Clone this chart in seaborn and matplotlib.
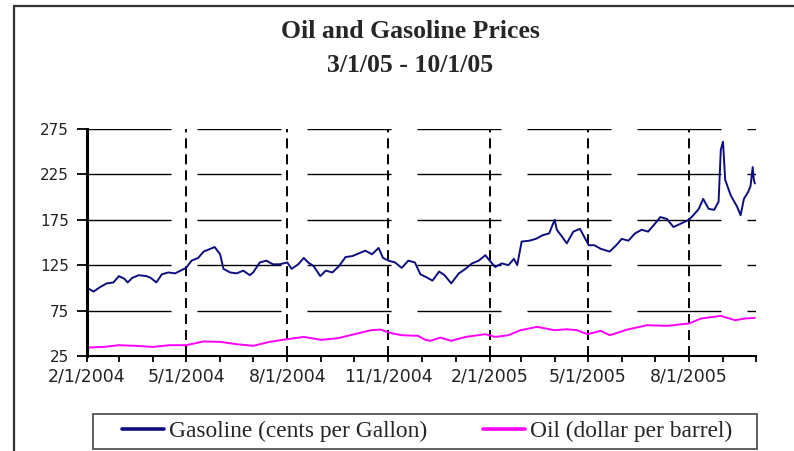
import matplotlib
matplotlib.use("Agg")
import matplotlib.pyplot as plt
import matplotlib.dates as mdates
from matplotlib.lines import Line2D
from matplotlib.patches import Rectangle
from matplotlib.ticker import FuncFormatter
import pandas as pd
import seaborn as sns

# ── data ────────────────────────────────────────────────────────────────────
GAS_DATES = [
    "2004-02-01", "2004-02-07", "2004-02-13", "2004-02-19", "2004-02-25", "2004-03-01",
    "2004-03-06", "2004-03-09", "2004-03-13", "2004-03-19", "2004-03-26", "2004-03-30",
    "2004-04-04", "2004-04-09", "2004-04-15", "2004-04-21", "2004-04-26", "2004-05-01",
    "2004-05-06", "2004-05-12", "2004-05-17", "2004-05-23", "2004-05-27", "2004-06-01",
    "2004-06-04", "2004-06-10", "2004-06-16", "2004-06-22", "2004-06-28", "2004-07-01",
    "2004-07-07", "2004-07-13", "2004-07-19", "2004-07-25", "2004-08-01", "2004-08-05",
    "2004-08-11", "2004-08-16", "2004-08-20", "2004-08-25", "2004-08-31", "2004-09-05",
    "2004-09-11", "2004-09-17", "2004-09-23", "2004-09-29", "2004-10-05", "2004-10-11",
    "2004-10-17", "2004-10-23", "2004-10-27", "2004-11-01", "2004-11-07", "2004-11-13",
    "2004-11-19", "2004-11-25", "2004-11-30", "2004-12-05", "2004-12-11", "2004-12-17",
    "2004-12-22", "2004-12-28", "2005-01-04", "2005-01-10", "2005-01-16", "2005-01-22",
    "2005-01-28", "2005-02-01", "2005-02-06", "2005-02-12", "2005-02-18", "2005-02-23",
    "2005-02-26", "2005-03-02", "2005-03-09", "2005-03-15", "2005-03-21", "2005-03-27",
    "2005-04-01", "2005-04-03", "2005-04-08", "2005-04-12", "2005-04-18", "2005-04-24",
    "2005-04-28", "2005-05-02", "2005-05-07", "2005-05-13", "2005-05-21", "2005-05-27",
    "2005-06-01", "2005-06-07", "2005-06-13", "2005-06-19", "2005-06-25", "2005-06-30",
    "2005-07-06", "2005-07-12", "2005-07-18", "2005-07-25", "2005-08-01", "2005-08-05",
    "2005-08-10", "2005-08-14", "2005-08-19", "2005-08-24", "2005-08-28", "2005-08-30",
    "2005-09-01", "2005-09-03", "2005-09-08", "2005-09-14", "2005-09-17", "2005-09-20",
    "2005-09-24", "2005-09-26", "2005-09-28", "2005-09-29", "2005-09-30",
]
GAS_VALUES = [
    100, 96, 101, 105, 106, 113,
    110, 106, 111, 114, 113, 111,
    106, 115, 117, 116, 119, 122,
    130, 133, 140, 143, 145, 137,
    121, 117, 116, 119, 114, 117,
    128, 130, 126, 126, 128, 121,
    126, 133, 128, 124, 113, 119,
    117, 124, 134, 135, 138, 141,
    137, 144, 133, 130, 128, 122,
    130, 128, 115, 112, 108, 118,
    114, 105, 116, 121, 127, 130,
    136, 130, 123, 127, 125, 132,
    125, 151, 152, 154, 158, 160,
    175, 164, 156, 149, 162, 165,
    156, 147, 147, 143, 140, 147,
    154, 152, 160, 164, 162, 169,
    178, 176, 167, 171, 175, 180,
    187, 198, 187, 186, 195, 252,
    261, 219, 202, 189, 180, 198,
    206, 212, 233, 219, 215,
]

OIL_DATES = [
    "2004-02-01", "2004-02-16", "2004-03-01", "2004-03-16", "2004-04-01", "2004-04-16",
    "2004-05-01", "2004-05-17", "2004-06-01", "2004-06-16", "2004-07-01", "2004-07-16",
    "2004-08-01", "2004-08-16", "2004-09-01", "2004-09-16", "2004-10-01", "2004-10-16",
    "2004-10-25", "2004-11-01", "2004-11-13", "2004-11-28", "2004-12-04", "2004-12-09",
    "2004-12-18", "2004-12-28", "2005-01-10", "2005-01-28", "2005-02-06", "2005-02-18",
    "2005-03-01", "2005-03-16", "2005-04-01", "2005-04-12", "2005-04-21", "2005-05-01",
    "2005-05-13", "2005-05-21", "2005-06-06", "2005-06-24", "2005-07-12", "2005-08-01",
    "2005-08-12", "2005-08-30", "2005-09-12", "2005-09-21", "2005-09-30",
]
OIL_VALUES = [
    34.3, 35.0, 36.9, 36.2, 35.0, 36.9,
    36.9, 41.0, 40.6, 38.0, 36.2, 40.6,
    43.5, 46.0, 42.8, 44.6, 49.0, 53.4,
    54.1, 50.8, 47.9, 47.2, 43.0, 41.7,
    45.3, 41.7, 46.0, 49.0, 46.0, 47.9,
    53.4, 57.1, 53.4, 54.5, 53.4, 49.0,
    52.7, 47.9, 54.1, 58.9, 58.2, 60.8,
    66.3, 69.2, 64.4, 66.3, 67.0,
]

Y_TICKS = [25, 75, 125, 175, 225, 275]
X_START, X_END = "2004-02-01", "2005-10-01"
GAS_LABEL = "Gasoline (cents per Gallon)"
OIL_LABEL = "Oil (dollar per barrel)"
TITLE = "Oil and Gasoline Prices"
SUBTITLE = "3/1/05 - 10/1/05"

# ── style ───────────────────────────────────────────────────────────────────
sns.set_style("white")
plt.rcParams["font.family"] = ["DejaVu Sans"]
plt.rcParams["lines.scale_dashes"] = False

gas = pd.DataFrame({"date": pd.to_datetime(GAS_DATES), "value": GAS_VALUES})
oil = pd.DataFrame({"date": pd.to_datetime(OIL_DATES), "value": OIL_VALUES})

fig = plt.figure(figsize=(7.94, 4.51), dpi=100)
ax = fig.add_axes([87 / 794, 1 - 356 / 451, (756 - 87) / 794, (356 - 129) / 451])

sns.lineplot(data=gas, x="date", y="value", ax=ax, color="#0d0d80", linewidth=1.4,
             estimator=None, label=GAS_LABEL, legend=False)
sns.lineplot(data=oil, x="date", y="value", ax=ax, color="#ff00ff", linewidth=1.4,
             estimator=None, label=OIL_LABEL, legend=False)

ax.set_xlim(pd.Timestamp(X_START), pd.Timestamp(X_END))
ax.set_ylim(Y_TICKS[0], Y_TICKS[-1])
ax.set_yticks(Y_TICKS)
ax.set_xlabel("")
ax.set_ylabel("")

ax.xaxis.set_major_locator(mdates.MonthLocator(bymonth=[2, 5, 8, 11]))
ax.xaxis.set_minor_locator(mdates.MonthLocator())
ax.xaxis.set_major_formatter(FuncFormatter(
    lambda v, _: (lambda d: f"{d.month}/{d.day}/{d.year}")(mdates.num2date(v))))

for s in ("top", "right"):
    ax.spines[s].set_visible(False)
ax.spines["left"].set_linewidth(2.2)
ax.spines["left"].set_color("black")
ax.spines["bottom"].set_linewidth(1.5)
ax.spines["bottom"].set_color("black")

ax.tick_params(axis="x", which="both", direction="out", length=4.5, width=1.3,
               color="black", bottom=True, labelsize=12.5, labelcolor="#222222", pad=4)
ax.tick_params(axis="y", direction="out", length=7, width=1.3, color="black",
               left=True, labelsize=11, labelcolor="#222222", pad=6)

ax.grid(axis="x", which="major", color="black", linewidth=1.4,
        linestyle=(0, (7.2, 4.3)))
ax.grid(axis="y", which="major", color="black", linewidth=1.0,
        linestyle=(0, (60.5, 18.7)))

# titles
fig.text(410 / 794, 1 - 32 / 451, TITLE, ha="center", va="center",
         family="Liberation Serif", fontweight="bold", fontsize=18.5)
fig.text(410 / 794, 1 - 65 / 451, SUBTITLE, ha="center", va="center",
         family="Liberation Serif", fontweight="bold", fontsize=18.5)

# legend: box drawn separately, entries centred inside it
fig.add_artist(Rectangle((93 / 794, 1 - 449 / 451), (757 - 93) / 794, 35 / 451,
                         transform=fig.transFigure, fill=False,
                         edgecolor="#444444", linewidth=1.2))
handles = [Line2D([], [], color="#0d0d80", linewidth=2.6),
           Line2D([], [], color="#ff00ff", linewidth=2.6)]
fig.legend(handles, [GAS_LABEL, OIL_LABEL], loc="center",
           bbox_to_anchor=(427 / 794, 1 - 431.5 / 451), ncol=2, frameon=False,
           handlelength=1.8, handletextpad=0.21, columnspacing=2.4,
           prop={"family": "Liberation Serif", "size": 16.8})

# outer frame (left and top edges)
fig.add_artist(Line2D([14 / 794, 14 / 794], [0, 1 - 6 / 451], transform=fig.transFigure,
                      color="#333333", linewidth=1.6))
fig.add_artist(Line2D([14 / 794, 1], [1 - 6 / 451, 1 - 6 / 451], transform=fig.transFigure,
                      color="#333333", linewidth=1.6))

fig.savefig("out.png", dpi=100)
